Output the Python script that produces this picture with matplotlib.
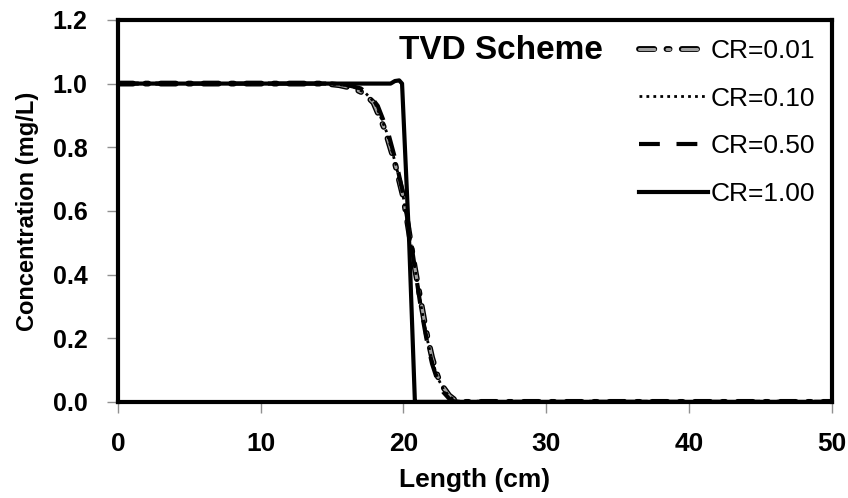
import matplotlib.pyplot as plt
import matplotlib.patheffects as pe

plt.rcParams["font.family"] = ["Liberation Sans", "DejaVu Sans"]

x_cr001 = [0, 14.5, 15.5, 16.5, 17.2, 17.9, 18.7, 19.4, 20.0, 20.4, 20.8, 21.2, 21.6, 22.0, 22.4, 22.8, 23.2, 23.6, 24.0, 50]
y_cr001 = [1.0, 1.0, 0.995, 0.985, 0.97, 0.94, 0.855, 0.75, 0.64, 0.53, 0.42, 0.32, 0.22, 0.14, 0.08, 0.045, 0.02, 0.006, 0.0, 0.0]

x_cr010 = [0, 14.6, 15.6, 16.6, 17.3, 18.0, 18.8, 19.5, 20.0, 20.4, 20.8, 21.2, 21.6, 22.0, 22.4, 22.8, 23.2, 23.6, 24.0, 50]
y_cr010 = [1.0, 1.0, 0.996, 0.987, 0.972, 0.94, 0.85, 0.74, 0.64, 0.53, 0.42, 0.31, 0.21, 0.13, 0.075, 0.04, 0.018, 0.005, 0.0, 0.0]

x_cr050 = [0, 15.0, 16.0, 17.0, 17.6, 18.2, 18.9, 19.5, 20.0, 20.4, 20.8, 21.2, 21.6, 22.0, 22.4, 22.8, 23.2, 23.6, 50]
y_cr050 = [1.0, 1.0, 0.996, 0.985, 0.965, 0.93, 0.85, 0.75, 0.65, 0.54, 0.42, 0.30, 0.20, 0.12, 0.065, 0.03, 0.01, 0.0, 0.0]

x_cr100 = [0, 10, 19.1, 19.4, 19.7, 19.9, 20.4, 20.8, 21.0, 50]
y_cr100 = [1.0, 1.0, 1.0, 1.008, 1.01, 1.0, 0.5, 0.0, 0.0, 0.0]

xticks = [0, 10, 20, 30, 40, 50]
yticks = [0.0, 0.2, 0.4, 0.6, 0.8, 1.0, 1.2]

fig = plt.figure(figsize=(8.48, 4.98), dpi=100)
ax = fig.add_axes([0.139, 0.193, 0.842, 0.767])

ax.plot(x_cr001, y_cr001, color="#a0a0a0", lw=2.2, dashes=(5, 4, 1, 4),
        dash_capstyle="round",
        path_effects=[pe.Stroke(linewidth=4.2, foreground="black"), pe.Normal()],
        label="CR=0.01")
ax.plot(x_cr010, y_cr010, color="black", lw=2, linestyle=(0, (1, 1.5)), label="CR=0.10")
ax.plot(x_cr050, y_cr050, color="black", lw=3, dashes=(5, 4), label="CR=0.50")
ax.plot(x_cr100, y_cr100, color="black", lw=3, label="CR=1.00")

ax.set_xlim(0, 50)
ax.set_ylim(0, 1.2)
ax.set_xticks(xticks)
ax.set_yticks(yticks)
ax.set_xticklabels([str(v) for v in xticks], fontsize=19, fontweight="bold")
ax.set_yticklabels([f"{v:.1f}" for v in yticks], fontsize=18, fontweight="bold")
ax.tick_params(direction="out", length=8, width=1, color="#909090")
ax.tick_params(axis="x", pad=14)
ax.tick_params(axis="y", pad=14)
for s in ax.spines.values():
    s.set_linewidth(3)
    s.set_color("black")

ax.set_xlabel("Length (cm)", fontsize=19, fontweight="bold", labelpad=8)
ax.set_ylabel("Concentration (mg/L)", fontsize=17, fontweight="bold", labelpad=10)

ax.text(26.8, 1.104, "TVD Scheme", fontsize=24, fontweight="bold", ha="center", va="center")

ax.legend(loc="upper right", frameon=False, fontsize=19, handlelength=2.6,
          handletextpad=0.1, labelspacing=0.9, borderaxespad=0.1,
          bbox_to_anchor=(0.995, 0.985))

fig.savefig("out.png", dpi=100)
